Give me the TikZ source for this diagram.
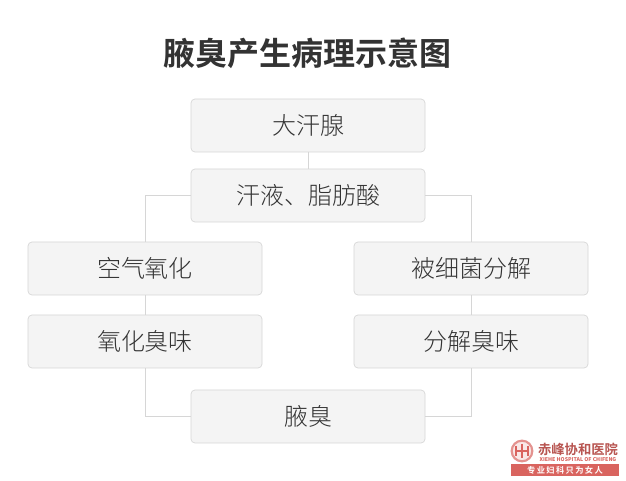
\documentclass[tikz,border=0pt]{standalone}
\usepackage{fontspec}
\setmainfont{Noto Sans CJK SC}
\newfontfamily\cjklight{Noto Sans CJK SC}[UprightFont={* Light},BoldFont={* Bold}]
\newfontfamily\cjkbold{Noto Sans CJK SC}[UprightFont={* Bold}]
\definecolor{boxfill}{HTML}{F4F4F4}
\definecolor{boxline}{HTML}{D6D6D6}
\definecolor{txt}{HTML}{333333}
\definecolor{logored}{HTML}{D9645F}
\tikzset{
  x=0.75pt,y=-0.75pt,
  flowbox/.style={draw=boxline,fill=boxfill,rounded corners=3pt,line width=0.5pt,minimum width=175.5pt,minimum height=39.75pt,inner sep=0pt,text=txt,font=\cjklight\fontsize{18}{20}\selectfont},
  link/.style={draw=boxline,line width=0.5pt},
}
\begin{document}
\begin{tikzpicture}
\useasboundingbox (0,0) rectangle (626,481);
\fill[white] (0,0) rectangle (626,481);
\node[text=txt,font=\cjkbold\fontsize{24}{28}\selectfont,inner sep=0pt] (title) at (307.5,53.5) {腋臭产生病理示意图};
\node[flowbox] (gland) at (308,125.5) {大汗腺};
\node[flowbox] (sweat) at (308,195.5) {汗液、脂肪酸};
\node[flowbox] (air) at (145,268.5) {空气氧化};
\node[flowbox] (oxi) at (145,341.5) {氧化臭味};
\node[flowbox] (bact) at (471,268.5) {被细菌分解};
\node[flowbox] (deco) at (471,341.5) {分解臭味};
\node[flowbox] (odor) at (308,416.5) {腋臭};
\draw[link] (gland) -- (sweat);
\draw[link] (sweat.west) -| (air.north);
\draw[link] (sweat.east) -| (bact.north);
\draw[link] (air) -- (oxi);
\draw[link] (bact) -- (deco);
\draw[link] (oxi.south) |- (odor.west);
\draw[link] (deco.south) |- (odor.east);
% logo
\node[circle,draw=logored!70,line width=1.6pt,fill=logored!15,minimum size=15.5pt,inner sep=0pt] (seal) at (522,451) {};
\draw[logored,line width=0.9pt] (516,446) -- (516,456) (522,444) -- (522,458) (528,446) -- (528,456) (516,451) -- (528,451);
\node[text=logored!85!black,font=\cjkbold\fontsize{10}{10}\selectfont,inner sep=0pt] (lname) at (578,449) {赤峰协和医院};
\node[text=logored,font=\bfseries\fontsize{3.9}{4}\selectfont,inner sep=0pt] (lsub) at (578,460) {XIEHE HOSPITAL OF CHIFENG};
\node[fill=logored,text=white,minimum width=81pt,minimum height=9pt,inner sep=0pt,font=\cjkbold\fontsize{6.2}{7}\selectfont] (lband) at (565,470) {专\,业\,妇\,科\,只\,为\,女\,人};
\end{tikzpicture}
\end{document}
